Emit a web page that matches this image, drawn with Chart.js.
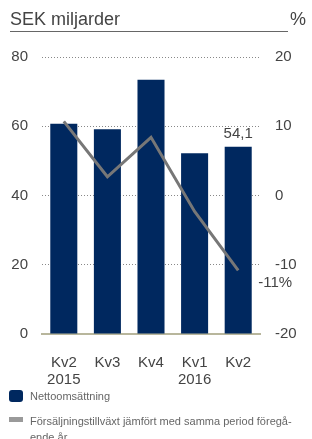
<!DOCTYPE html>
<html>
<head>
<meta charset="utf-8">
<script src="https://cdn.jsdelivr.net/npm/chart.js@4/dist/chart.umd.min.js"></script>
<style>
  html, body { margin: 0; padding: 0; background: #fff; }
  body { width: 312px; height: 439px; position: relative; overflow: hidden; font-family: "Liberation Sans", Arial, sans-serif; }
  #chart { position: absolute; left: 0; top: 0; }
  .title { position: absolute; left: 10px; top: 8px; width: 278px; font-size: 18px; color: #444; border-bottom: 1px solid #666; line-height: 23px; }
  .pct { position: absolute; left: 290px; top: 8px; font-size: 18px; color: #444; line-height: 23px; }
  .legend { position: absolute; left: 9px; font-size: 11px; color: #666; }
  .legend .sw { position: absolute; left: 0; }
  .legend .txt { position: absolute; left: 21px; width: 280px; line-height: 16px; }
</style>
</head>
<body>
<canvas id="chart" width="312" height="439"></canvas>
<div class="title">SEK miljarder</div>
<div class="pct">%</div>
<div class="legend" style="top:390px">
  <div class="sw" style="top:0;width:14px;height:12px;background:#00285f;border-radius:3px"></div>
  <div class="txt" style="top:-2px">Nettoomsättning</div>
</div>
<div class="legend" style="top:417px">
  <div class="sw" style="top:0;width:14px;height:5px;background:#9a9a9a"></div>
  <div class="txt" style="top:-4px">Försäljningstillväxt jämfört med samma period föregå-<br>ende år</div>
</div>
<script>
const categories = [['Kv2', '2015'], ['Kv3', ''], ['Kv4', ''], ['Kv1', '2016'], ['Kv2', '']];
const netSales = [60.7, 59.1, 73.4, 52.2, 54.1];
const growth = [10.7, 2.7, 8.4, -2.3, -10.8];
const leftTicks = [0, 20, 40, 60, 80];
const rightTicks = [-20, -10, 0, 10, 20];
const barLabel = '54,1';
const lineLabel = '-11%';

const FONT = '"Liberation Sans", Arial, sans-serif';
const TEXT = '#444';

const labelsPlugin = {
  id: 'endLabels',
  afterDatasetsDraw(chart) {
    const ctx = chart.ctx;
    const bar = chart.getDatasetMeta(1).data[4];
    const pt = chart.getDatasetMeta(0).data[4];
    ctx.save();
    ctx.font = '15px ' + FONT;
    ctx.fillStyle = TEXT;
    ctx.textAlign = 'center';
    ctx.textBaseline = 'bottom';
    ctx.fillText(barLabel, bar.x, bar.y - 5);
    ctx.textAlign = 'left';
    ctx.textBaseline = 'middle';
    ctx.fillText(lineLabel, pt.x + 20, pt.y + 13);
    ctx.restore();
  }
};

new Chart(document.getElementById('chart'), {
  type: 'bar',
  data: {
    labels: categories,
    datasets: [
      {
        type: 'line',
        data: growth,
        yAxisID: 'y1',
        borderColor: '#777',
        borderWidth: 3,
        pointRadius: 0,
        tension: 0,
        order: 0
      },
      {
        data: netSales,
        yAxisID: 'y',
        backgroundColor: '#00285f',
        barPercentage: 0.62,
        categoryPercentage: 1,
        order: 1
      }
    ]
  },
  options: {
    responsive: false,
    animation: false,
    layout: { padding: { top: 57, left: 0, right: 0, bottom: 0 } },
    plugins: { legend: { display: false }, tooltip: { enabled: false } },
    scales: {
      x: {
        grid: { display: false },
        border: { display: true, color: '#b8b69c', width: 2 },
        ticks: { color: TEXT, font: { size: 15, family: FONT, lineHeight: 1.15 }, padding: 12, maxRotation: 0 },
        afterFit(s) { s.height = 105; }
      },
      y: {
        position: 'left',
        min: 0, max: 80,
        afterBuildTicks(s) { s.ticks = leftTicks.map(v => ({ value: v })); },
        grid: { color: '#888', drawTicks: false },
        border: { display: false, dash: [1, 2] },
        ticks: { color: TEXT, font: { size: 15, family: FONT }, padding: 14 },
        afterFit(s) { s.width = 42; }
      },
      y1: {
        position: 'right',
        min: -20, max: 20,
        afterBuildTicks(s) { s.ticks = rightTicks.map(v => ({ value: v })); },
        grid: { drawOnChartArea: false, drawTicks: false },
        border: { display: false },
        ticks: { color: TEXT, font: { size: 15, family: FONT }, padding: 15 },
        afterFit(s) { s.width = 52; }
      }
    }
  },
  plugins: [labelsPlugin]
});
</script>
</body>
</html>
